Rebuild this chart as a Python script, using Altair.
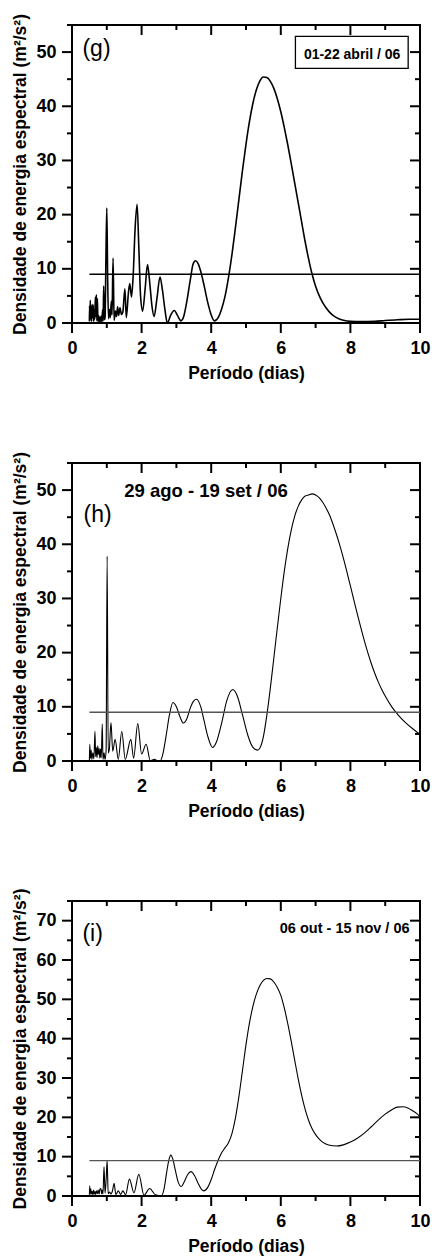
import altair as alt
import pandas as pd

# ---------------- data ----------------
# Panel (g) 01-22 abril / 06
g_x = [0.50, 0.505, 0.515, 0.525, 0.54, 0.55, 0.565, 0.58, 0.595, 0.61,
       0.625, 0.64, 0.655, 0.67, 0.685, 0.70, 0.715, 0.73, 0.745, 0.76,
       0.78, 0.80, 0.82, 0.84, 0.86, 0.88, 0.895, 0.91, 0.93, 0.95,
       0.975, 1.0, 1.025, 1.05, 1.08, 1.10, 1.13, 1.15, 1.18, 1.21,
       1.25, 1.28, 1.31, 1.34, 1.38, 1.42, 1.46, 1.52, 1.56, 1.62,
       1.66, 1.71, 1.76, 1.81, 1.87, 1.92, 1.97, 2.03, 2.10, 2.17,
       2.24, 2.30, 2.36, 2.44, 2.53, 2.60, 2.67, 2.74, 2.84, 2.94,
       3.03, 3.13, 3.2, 3.3, 3.4, 3.48, 3.55, 3.62, 3.7, 3.8,
       3.9, 4.0, 4.09, 4.2, 4.3, 4.4, 4.5, 4.6, 4.7, 4.8,
       4.9, 5.0, 5.1, 5.2, 5.3, 5.4, 5.5, 5.6, 5.7, 5.8,
       5.9, 6.0, 6.1, 6.2, 6.3, 6.4, 6.5, 6.6, 6.7, 6.8,
       6.9, 7.0, 7.1, 7.2, 7.3, 7.4, 7.5, 7.6, 7.7, 7.8,
       8.0, 8.3, 8.7, 9.0, 9.35, 9.7, 10.0]
g_y = [0.3, 3.2, 0.4, 4.2, 0.8, 3.0, 0.3, 3.4, 1.0, 3.3,
       0.3, 2.4, 0.7, 4.8, 1.2, 5.2, 0.4, 4.5, 0.3, 1.4,
       0.2, 1.1, 0.3, 1.3, 0.2, 2.5, 0.4, 6.8, 0.6, 1.0,
       12.0, 21.2, 8.0, 0.8, 2.5, 1.0, 4.0, 1.5, 12.0, 0.5,
       2.2, 1.2, 3.0, 1.4, 2.8, 1.6, 2.0, 6.3, 1.0, 5.5,
       7.3, 4.8, 9.0, 17.0, 21.9, 14.0, 5.0, 2.2, 6.2, 10.8,
       7.0, 3.0, 1.2, 4.5, 8.5, 6.0, 2.5, 0.0, 1.5, 2.3,
       1.4, 0.4, 1.0, 4.0, 8.0, 10.9, 11.5, 11.0, 9.5, 6.8,
       3.8, 1.5, 0.4, 1.0, 2.6, 5.0, 8.5, 12.8, 17.8, 23.0,
       28.2, 33.0, 37.2, 40.6, 43.1, 44.7, 45.4, 45.3, 44.6, 43.3,
       41.4, 39.0, 36.1, 32.9, 29.4, 25.8, 22.2, 18.6, 15.0, 11.8,
       9.0, 6.8, 5.1, 3.8, 2.8, 2.0, 1.4, 1.0, 0.7, 0.5,
       0.3, 0.25, 0.3, 0.45, 0.6, 0.7, 0.7]

# Panel (h) 29 ago - 19 set / 06
h_x = [0.50, 0.51, 0.53, 0.55, 0.57, 0.60, 0.63, 0.66, 0.68, 0.70,
       0.72, 0.74, 0.76, 0.78, 0.80, 0.82, 0.84, 0.87, 0.89, 0.92,
       0.95, 0.98, 1.01, 1.04, 1.07, 1.12, 1.17, 1.24, 1.33, 1.43,
       1.53, 1.69, 1.77, 1.89, 2.00, 2.13, 2.25, 2.37, 2.45, 2.53,
       2.6, 2.7, 2.8, 2.9, 3.0, 3.1, 3.2, 3.3, 3.4, 3.5,
       3.58, 3.7, 3.8, 3.9, 4.04, 4.15, 4.3, 4.45, 4.62, 4.75,
       4.9, 5.05, 5.2, 5.33, 5.4, 5.5, 5.6, 5.7, 5.8, 5.9,
       6.0, 6.1, 6.2, 6.3, 6.4, 6.5, 6.6, 6.7, 6.8, 6.9,
       7.0, 7.1, 7.2, 7.3, 7.4, 7.5, 7.6, 7.7, 7.8, 7.9,
       8.0, 8.1, 8.2, 8.3, 8.4, 8.5, 8.6, 8.7, 8.8, 8.9,
       9.0, 9.2, 9.4, 9.6, 9.8, 10.0]
h_y = [0.2, 3.1, 0.5, 2.0, 0.3, 1.5, 0.4, 5.5, 0.8, 2.5,
       0.6, 2.8, 1.2, 2.3, 0.5, 2.2, 0.6, 6.8, 0.3, 1.5,
       0.3, 2.0, 37.8, 1.5, 2.0, 7.1, 1.8, 4.0, 0.3, 5.5,
       0.3, 4.0, 0.5, 6.9, 1.3, 3.1, 0.1, 0.3, 0.05, 0.0,
       1.0, 4.5, 8.5, 10.8, 10.0, 8.2, 7.0, 7.8, 9.8, 11.1,
       11.4, 10.0, 7.3, 4.6, 2.5, 3.5, 7.0, 11.2, 13.2, 12.0,
       8.5, 4.8, 2.5, 2.0, 2.4, 4.5, 8.5, 13.5, 19.0, 24.6,
       30.0, 35.0, 39.2, 42.6, 45.2, 47.0, 48.2, 48.9, 49.1, 49.3,
       49.1, 48.6, 47.8, 46.7, 45.4, 43.7, 41.8, 39.7, 37.4, 34.9,
       32.3, 29.7, 27.1, 24.6, 22.2, 20.0, 18.0, 16.2, 14.6, 13.2,
       12.0, 9.9, 8.3, 7.0, 5.9, 4.9]

# Panel (i) 06 out - 15 nov / 06
i_x = [0.50, 0.51, 0.52, 0.54, 0.56, 0.58, 0.60, 0.62, 0.64, 0.66,
       0.68, 0.70, 0.73, 0.75, 0.78, 0.80, 0.83, 0.85, 0.87, 0.89,
       0.92, 0.95, 0.98, 1.01, 1.04, 1.08, 1.12, 1.16, 1.21, 1.26,
       1.33, 1.40, 1.46, 1.54, 1.65, 1.78, 1.92, 2.07, 2.23, 2.40,
       2.57, 2.65, 2.72, 2.78, 2.84, 2.90, 2.97, 3.05, 3.14, 3.22,
       3.32, 3.42, 3.52, 3.62, 3.72, 3.79, 3.9, 4.0, 4.1, 4.2,
       4.3, 4.4, 4.5, 4.6, 4.7, 4.8, 4.9, 5.0, 5.1, 5.2,
       5.3, 5.4, 5.5, 5.6, 5.7, 5.8, 5.9, 6.0, 6.1, 6.2,
       6.3, 6.4, 6.5, 6.6, 6.7, 6.8, 6.9, 7.0, 7.1, 7.2,
       7.4, 7.6, 7.8, 8.0, 8.2, 8.4, 8.6, 8.8, 9.0, 9.2,
       9.35, 9.5, 9.65, 9.8, 9.9, 10.0]
i_y = [0.3, 2.6, 0.4, 1.8, 0.5, 1.2, 0.3, 1.5, 0.5, 1.1,
       0.4, 1.3, 0.6, 1.5, 0.5, 1.7, 1.9, 0.6, 1.5, 0.5,
       7.5, 0.7, 4.0, 9.0, 0.6, 1.0, 0.5, 1.2, 3.2, 0.4,
       1.3, 0.4, 1.3, 0.3, 4.3, 0.8, 5.5, 0.2, 1.9, 0.3,
       0.05, 2.0, 6.0, 9.0, 10.4, 9.3, 6.5, 3.6, 2.4, 3.5,
       5.4, 6.2, 5.2, 3.3, 1.7, 1.3, 2.2, 4.2, 6.8, 9.1,
       11.0, 12.3, 13.6, 16.0, 20.0, 25.5, 32.0, 38.5, 44.0, 48.3,
       51.4, 53.5, 54.8, 55.3, 55.2, 54.4, 53.0, 51.0, 47.8, 43.8,
       39.3, 34.5, 29.8, 25.6, 22.0, 19.2, 17.1, 15.6, 14.5, 13.7,
       12.9, 12.7, 13.0, 13.7, 14.7, 16.0, 17.6, 19.3, 20.8, 22.0,
       22.6, 22.7, 22.4, 21.6, 21.0, 20.2]

# threshold level (x from, x to, level)
threshold_start = 0.5
threshold_end = 10.0
threshold_level = 9.0

# axis tick values
x_major = [0, 2, 4, 6, 8, 10]
x_minor = [1, 3, 5, 7, 9]

panel_labels = ["(g)", "(h)", "(i)"]
period_labels = ["01-22 abril / 06", "29 ago - 19 set / 06", "06 out - 15 nov / 06"]

X_TITLE = "Período (dias)"
Y_TITLE = "Densidade de energia espectral (m²/s²)"
FONT = "Liberation Sans"
W = 348


def tick_rules(vals, orient, size, xsc, ysc, height):
    df = pd.DataFrame({"v": vals})
    base = alt.Chart(df).mark_rule(color="black", strokeWidth=2, strokeCap="butt")
    if orient == "bottom":
        enc = dict(x=alt.X("v:Q", scale=xsc, axis=None),
                   y=alt.value(height), y2=alt.value(height + size))
    elif orient == "top":
        enc = dict(x=alt.X("v:Q", scale=xsc, axis=None),
                   y=alt.value(0), y2=alt.value(size))
    elif orient == "left":
        enc = dict(y=alt.Y("v:Q", scale=ysc, axis=None),
                   x=alt.value(-size), x2=alt.value(0))
    else:
        enc = dict(y=alt.Y("v:Q", scale=ysc, axis=None),
                   x=alt.value(W - size), x2=alt.value(W))
    return base.encode(**enc)


def panel(xs, ys, ymax, height, lw, thr_color, label, label_xy, date, date_xy,
          date_size, date_align, box=None):
    df = pd.DataFrame({"x": xs, "y": ys})
    xsc = alt.Scale(domain=[0, 10], nice=False, zero=False)
    ysc = alt.Scale(domain=[0, ymax], nice=False, zero=False)
    y_all = list(range(0, ymax + 1, 5))
    y_major = [v for v in y_all if v % 10 == 0]
    y_minor = [v for v in y_all if v % 10 != 0]

    curve = alt.Chart(df).mark_line(
        color="black", strokeWidth=lw, clip=True, interpolate="monotone"
    ).encode(
        x=alt.X("x:Q", scale=xsc, axis=alt.Axis(
            orient="bottom", values=x_major, ticks=False, tickSize=0,
            labelFlush=False, labelOverlap=False,
            title=X_TITLE, labelPadding=16, titlePadding=7, titleFontSize=17.5)),
        y=alt.Y("y:Q", scale=ysc, axis=alt.Axis(
            orient="left", values=y_major, ticks=False, tickSize=0,
            labelFlush=False, labelOverlap=False,
            title=Y_TITLE, labelPadding=16, titlePadding=6, titleFontSize=17.5)),
    )

    thr_df = pd.DataFrame({"x0": [threshold_start], "x1": [threshold_end],
                           "y": [threshold_level]})
    thr = alt.Chart(thr_df).mark_rule(color=thr_color, strokeWidth=1.3).encode(
        x=alt.X("x0:Q", scale=xsc, axis=None),
        x2="x1:Q",
        y=alt.Y("y:Q", scale=ysc, axis=None),
    )

    layers = [curve, thr]
    for orient in ["bottom", "top"]:
        layers.append(tick_rules(x_major, orient, 10, xsc, ysc, height))
        layers.append(tick_rules(x_minor, orient, 5, xsc, ysc, height))
    for orient in ["left", "right"]:
        layers.append(tick_rules(y_major, orient, 10, xsc, ysc, height))
        layers.append(tick_rules(y_minor, orient, 5, xsc, ysc, height))

    lab = alt.Chart(pd.DataFrame({"x": [label_xy[0]], "y": [label_xy[1]], "t": [label]})).mark_text(
        align="left", baseline="middle", fontSize=23, font=FONT, color="black"
    ).encode(
        x=alt.X("x:Q", scale=xsc, axis=None),
        y=alt.Y("y:Q", scale=ysc, axis=None),
        text="t:N",
    )
    layers.append(lab)

    if box is not None:
        bx = alt.Chart(pd.DataFrame({"x": [box[0]], "x2": [box[1]], "y": [box[2]], "y2": [box[3]]})).mark_rect(
            fill="white", stroke="black", strokeWidth=1.3
        ).encode(
            x=alt.X("x:Q", scale=xsc, axis=None), x2="x2:Q",
            y=alt.Y("y:Q", scale=ysc, axis=None), y2="y2:Q",
        )
        layers.append(bx)

    dt = alt.Chart(pd.DataFrame({"x": [date_xy[0]], "y": [date_xy[1]], "t": [date]})).mark_text(
        align=date_align, baseline="middle", fontSize=date_size, font=FONT,
        fontWeight="bold", color="black"
    ).encode(
        x=alt.X("x:Q", scale=xsc, axis=None),
        y=alt.Y("y:Q", scale=ysc, axis=None),
        text="t:N",
    )
    layers.append(dt)

    return alt.layer(*layers).resolve_axis(x="independent", y="independent").properties(
        width=W, height=height
    )


pg = panel(g_x, g_y, 55, 298, 1.6, "black", panel_labels[0], (0.3, 50.5),
           period_labels[0], (8.05, 49.4), 14, "center", box=(6.42, 9.66, 52.9, 47.0))
ph = panel(h_x, h_y, 55, 298, 1.1, "#555555", panel_labels[1], (0.33, 45.4),
           period_labels[1], (3.85, 49.8), 18.5, "center")
pi = panel(i_x, i_y, 75, 295, 1.1, "#555555", panel_labels[2], (0.3, 66.6),
           period_labels[2], (9.7, 67.8), 14.5, "right")

chart = alt.vconcat(pg, ph, pi, spacing=140, bounds="flush").properties(
    padding={"left": 2, "top": 4, "right": 0, "bottom": 0}
).configure_view(
    stroke="black", strokeWidth=2
).configure_axis(
    grid=False, domain=False,
    labelFont=FONT, labelFontSize=18, labelFontWeight="bold", labelColor="black",
    titleFont=FONT, titleFontWeight="bold", titleColor="black",
)

chart.save("out.html", embed_options={"renderer": "svg", "actions": False})
